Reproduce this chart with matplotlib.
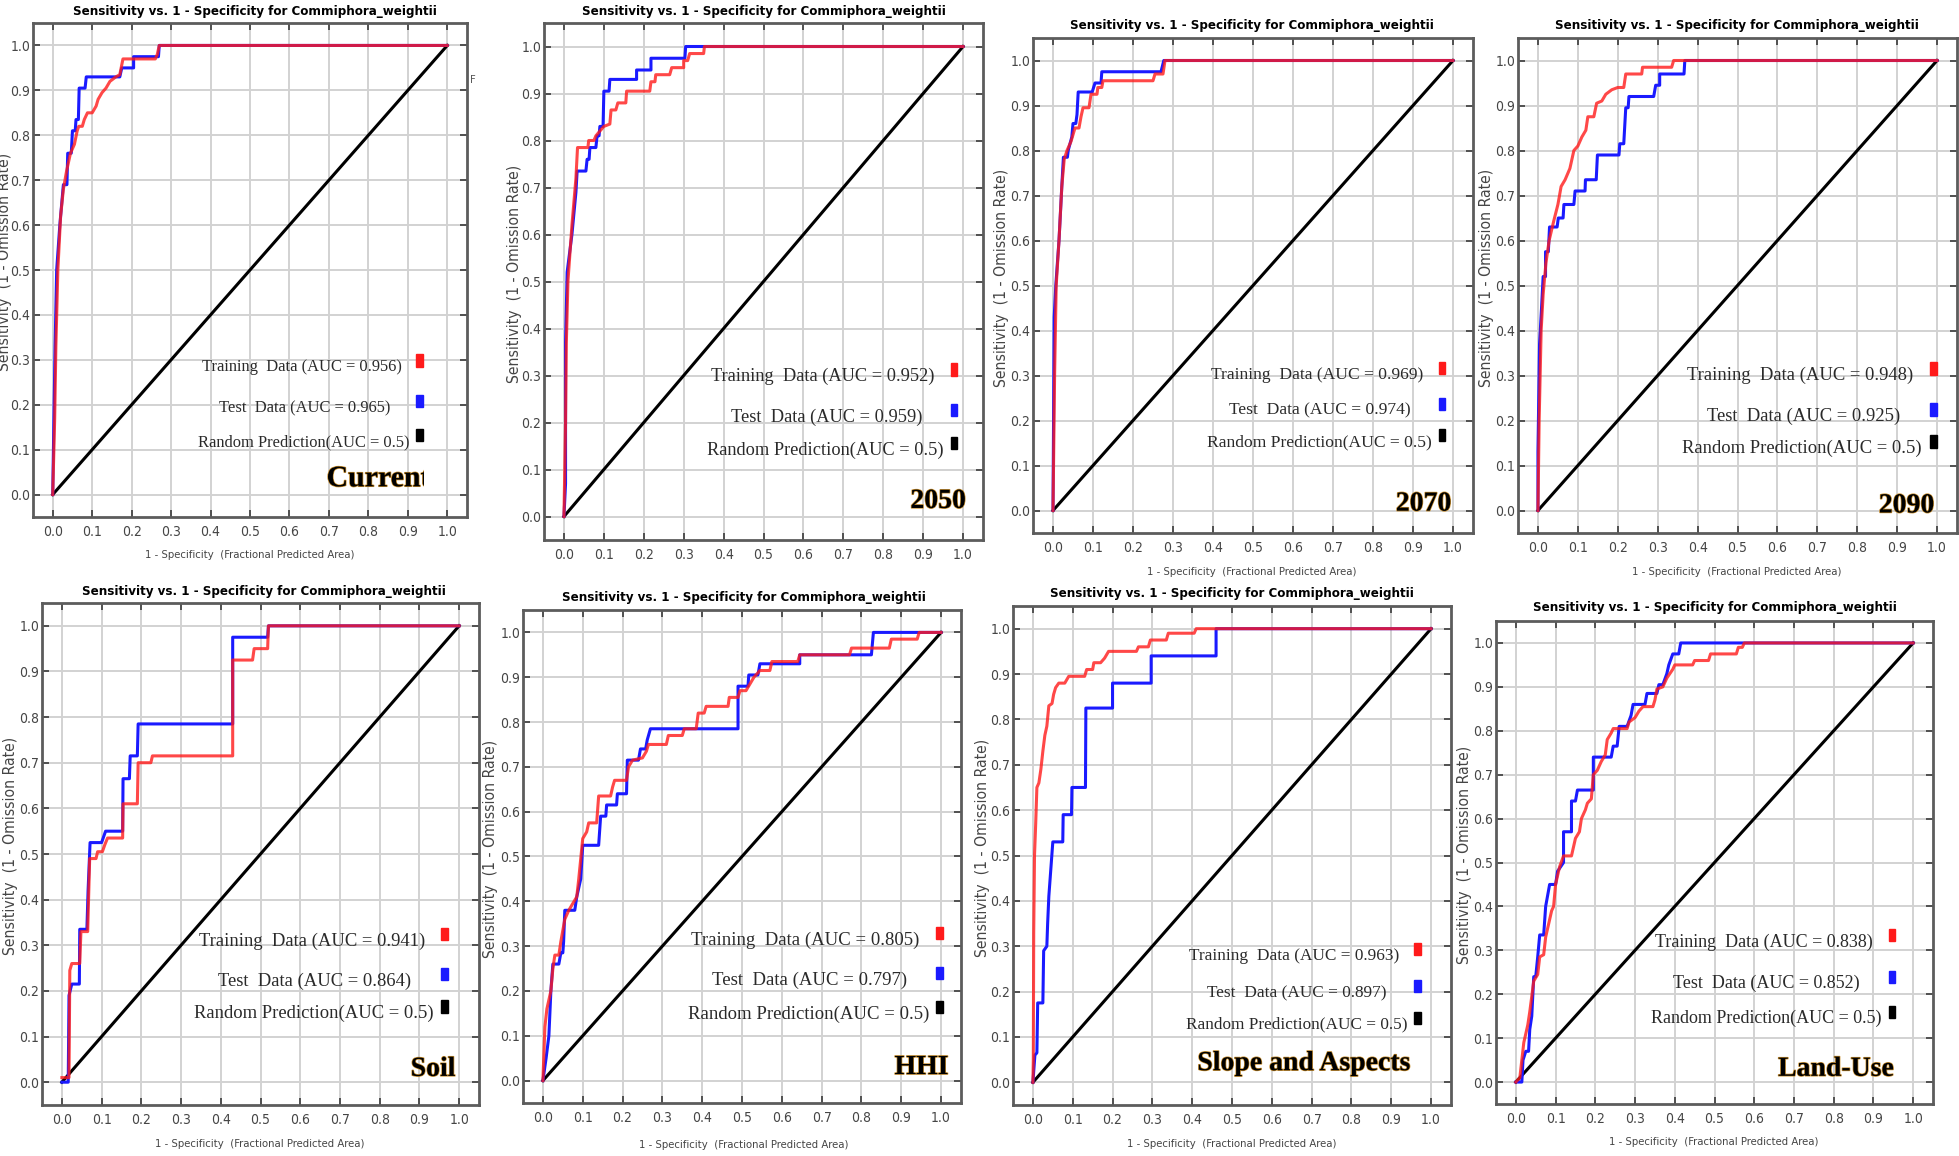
import matplotlib
matplotlib.use("Agg")
import matplotlib.pyplot as plt
import matplotlib.font_manager as fm
import matplotlib.patheffects as pe
from matplotlib.patches import Rectangle

# ---- data (x = 1-specificity, y = sensitivity) ----
cur_train = [(0,0),(0.005,0.17),(0.008,0.33),(0.013,0.5),(0.02,0.62),(0.027,0.68),(0.035,0.72),(0.045,0.76),
             (0.055,0.78),(0.062,0.81),(0.066,0.82),(0.075,0.82),(0.08,0.835),(0.088,0.85),(0.1,0.85),(0.11,0.865),
             (0.115,0.88),(0.125,0.895),(0.135,0.905),(0.145,0.92),(0.16,0.93),(0.17,0.935),(0.178,0.97),
             (0.26,0.97),(0.265,0.98),(0.27,1.0),(1,1)]
cur_test = [(0,0),(0.003,0.17),(0.006,0.33),(0.01,0.5),(0.018,0.6),(0.022,0.64),(0.027,0.69),(0.036,0.69),
            (0.038,0.76),(0.047,0.76),(0.05,0.81),(0.057,0.81),(0.059,0.835),(0.065,0.835),(0.067,0.905),
            (0.082,0.905),(0.085,0.93),(0.17,0.93),(0.175,0.95),(0.205,0.95),(0.205,0.975),(0.268,0.975),
            (0.27,1.0),(1,1)]

y2050_train = [(0,0),(0.004,0.2),(0.006,0.37),(0.01,0.5),(0.02,0.62),(0.03,0.72),(0.034,0.785),(0.06,0.785),
               (0.062,0.8),(0.075,0.8),(0.08,0.81),(0.09,0.82),(0.1,0.83),(0.115,0.835),(0.118,0.865),(0.13,0.865),
               (0.135,0.88),(0.155,0.88),(0.157,0.905),(0.215,0.905),(0.218,0.925),(0.228,0.925),(0.23,0.94),
               (0.265,0.94),(0.27,0.955),(0.3,0.955),(0.3,0.97),(0.31,0.97),(0.315,0.985),(0.35,0.985),
               (0.352,1.0),(1,1)]
y2050_test = [(0,0),(0.004,0.07),(0.004,0.37),(0.008,0.52),(0.02,0.6),(0.03,0.69),(0.033,0.735),(0.055,0.735),
              (0.058,0.76),(0.063,0.76),(0.065,0.785),(0.08,0.785),(0.083,0.81),(0.088,0.81),(0.09,0.83),
              (0.098,0.83),(0.1,0.905),(0.113,0.905),(0.115,0.93),(0.182,0.93),(0.182,0.95),(0.218,0.95),
              (0.218,0.975),(0.303,0.975),(0.305,1.0),(1,1)]

y2070_train = [(0,0),(0.004,0.3),(0.008,0.5),(0.015,0.6),(0.022,0.72),(0.028,0.78),(0.035,0.8),(0.045,0.82),
               (0.055,0.85),(0.065,0.85),(0.07,0.875),(0.075,0.895),(0.09,0.895),(0.095,0.925),(0.11,0.925),
               (0.112,0.94),(0.122,0.94),(0.125,0.955),(0.25,0.955),(0.255,0.97),(0.275,0.97),(0.28,1.0),(1,1)]
y2070_test = [(0,0),(0.003,0.43),(0.007,0.5),(0.015,0.6),(0.022,0.72),(0.026,0.785),(0.036,0.785),(0.038,0.8),
              (0.047,0.83),(0.05,0.86),(0.057,0.86),(0.06,0.88),(0.063,0.93),(0.098,0.93),(0.105,0.95),
              (0.12,0.95),(0.122,0.975),(0.27,0.975),(0.277,1.0),(1,1)]

y2090_train = [(0,0),(0.003,0.2),(0.008,0.4),(0.013,0.48),(0.02,0.55),(0.028,0.6),(0.04,0.645),(0.05,0.68),
               (0.058,0.72),(0.068,0.735),(0.08,0.76),(0.09,0.8),(0.1,0.81),(0.11,0.83),(0.12,0.845),(0.125,0.875),
               (0.14,0.875),(0.147,0.905),(0.16,0.91),(0.17,0.925),(0.185,0.935),(0.2,0.94),(0.215,0.94),
               (0.22,0.97),(0.26,0.97),(0.262,0.985),(0.335,0.985),(0.34,1.0),(1,1)]
y2090_test = [(0,0),(0.0,0.13),(0.004,0.37),(0.009,0.45),(0.013,0.52),(0.019,0.52),(0.019,0.575),(0.026,0.575),
              (0.029,0.63),(0.048,0.63),(0.051,0.65),(0.063,0.65),(0.065,0.68),(0.09,0.68),(0.093,0.71),
              (0.118,0.71),(0.119,0.735),(0.146,0.735),(0.149,0.79),(0.203,0.79),(0.205,0.815),(0.215,0.815),
              (0.22,0.895),(0.226,0.895),(0.228,0.92),(0.29,0.92),(0.295,0.945),(0.305,0.945),(0.305,0.97),
              (0.366,0.97),(0.368,1.0),(1,1)]

soil_train = [(0,0.01),(0.018,0.01),(0.02,0.245),(0.025,0.26),(0.045,0.26),(0.048,0.33),(0.065,0.33),
              (0.07,0.49),(0.086,0.49),(0.09,0.505),(0.102,0.505),(0.108,0.52),(0.115,0.535),(0.153,0.535),
              (0.154,0.61),(0.19,0.61),(0.192,0.7),(0.224,0.7),(0.228,0.715),(0.43,0.715),(0.43,0.925),
              (0.48,0.925),(0.484,0.95),(0.518,0.95),(0.52,1.0),(1,1)]
soil_test = [(0,0),(0.016,0),(0.018,0.19),(0.025,0.215),(0.044,0.215),(0.045,0.335),(0.063,0.335),
             (0.066,0.42),(0.071,0.525),(0.1,0.525),(0.11,0.55),(0.153,0.55),(0.154,0.665),(0.17,0.665),
             (0.172,0.715),(0.19,0.715),(0.192,0.785),(0.43,0.785),(0.43,0.975),(0.518,0.975),(0.52,1.0),(1,1)]

hhi_train = [(0,0),(0.005,0.12),(0.01,0.16),(0.02,0.2),(0.025,0.25),(0.03,0.28),(0.04,0.28),(0.045,0.31),
             (0.055,0.36),(0.065,0.38),(0.075,0.395),(0.085,0.41),(0.09,0.45),(0.1,0.54),(0.11,0.555),
             (0.115,0.575),(0.135,0.575),(0.14,0.635),(0.17,0.635),(0.175,0.655),(0.18,0.67),(0.21,0.67),
             (0.215,0.7),(0.225,0.715),(0.25,0.72),(0.26,0.735),(0.265,0.75),(0.31,0.75),(0.315,0.77),
             (0.35,0.77),(0.355,0.785),(0.385,0.785),(0.39,0.82),(0.405,0.82),(0.41,0.835),(0.465,0.835),
             (0.468,0.855),(0.49,0.855),(0.495,0.87),(0.51,0.87),(0.52,0.885),(0.53,0.9),(0.545,0.915),
             (0.57,0.915),(0.575,0.935),(0.64,0.935),(0.645,0.95),(0.77,0.95),(0.775,0.965),(0.87,0.965),
             (0.875,0.985),(0.94,0.985),(0.945,1.0),(1,1)]
hhi_test = [(0,0),(0.008,0.05),(0.015,0.1),(0.02,0.2),(0.025,0.26),(0.04,0.26),(0.045,0.285),(0.05,0.285),
            (0.052,0.31),(0.055,0.38),(0.08,0.38),(0.085,0.41),(0.095,0.45),(0.1,0.525),(0.14,0.525),
            (0.145,0.59),(0.158,0.59),(0.16,0.615),(0.185,0.615),(0.187,0.64),(0.21,0.64),(0.212,0.715),
            (0.24,0.715),(0.245,0.74),(0.258,0.74),(0.262,0.76),(0.27,0.785),(0.49,0.785),(0.49,0.88),
            (0.515,0.88),(0.517,0.905),(0.54,0.905),(0.545,0.93),(0.645,0.93),(0.645,0.95),(0.825,0.95),
            (0.83,1.0),(1,1)]

slope_train = [(0,0),(0.001,0.05),(0.002,0.33),(0.004,0.5),(0.007,0.57),(0.01,0.65),(0.015,0.66),(0.02,0.69),
               (0.025,0.73),(0.03,0.765),(0.035,0.785),(0.04,0.83),(0.048,0.835),(0.052,0.855),(0.057,0.87),
               (0.065,0.88),(0.08,0.88),(0.09,0.895),(0.13,0.895),(0.135,0.91),(0.15,0.91),(0.153,0.925),
               (0.17,0.925),(0.18,0.935),(0.19,0.95),(0.26,0.95),(0.265,0.96),(0.29,0.96),(0.295,0.975),
               (0.335,0.975),(0.34,0.99),(0.405,0.99),(0.41,1.0),(1,1)]
slope_test = [(0,0),(0.005,0.06),(0.01,0.065),(0.012,0.175),(0.025,0.175),(0.027,0.29),(0.035,0.3),
              (0.037,0.35),(0.04,0.41),(0.045,0.47),(0.05,0.53),(0.075,0.53),(0.076,0.59),(0.097,0.59),
              (0.098,0.65),(0.132,0.65),(0.133,0.825),(0.2,0.825),(0.2,0.88),(0.297,0.88),(0.297,0.94),
              (0.46,0.94),(0.46,1.0),(1,1)]

land_train = [(0,0),(0.01,0.01),(0.02,0.09),(0.03,0.13),(0.035,0.16),(0.045,0.23),(0.055,0.245),(0.06,0.285),
              (0.07,0.29),(0.075,0.33),(0.085,0.37),(0.09,0.39),(0.095,0.4),(0.1,0.45),(0.11,0.49),(0.12,0.515),
              (0.14,0.515),(0.145,0.535),(0.15,0.555),(0.16,0.57),(0.165,0.6),(0.175,0.62),(0.18,0.635),
              (0.19,0.645),(0.195,0.7),(0.205,0.71),(0.215,0.73),(0.225,0.745),(0.23,0.78),(0.24,0.795),
              (0.245,0.805),(0.28,0.805),(0.285,0.82),(0.3,0.83),(0.31,0.845),(0.32,0.855),(0.345,0.855),
              (0.35,0.87),(0.355,0.895),(0.37,0.9),(0.38,0.92),(0.395,0.94),(0.4,0.95),(0.445,0.95),
              (0.45,0.96),(0.485,0.96),(0.49,0.975),(0.555,0.975),(0.56,0.99),(0.57,0.99),(0.575,1.0),(1,1)]
land_test = [(0,0),(0.015,0),(0.018,0.05),(0.025,0.07),(0.032,0.07),(0.035,0.12),(0.04,0.15),(0.045,0.24),
             (0.05,0.24),(0.055,0.285),(0.06,0.335),(0.07,0.335),(0.075,0.4),(0.08,0.425),(0.085,0.45),
             (0.1,0.45),(0.105,0.48),(0.12,0.5),(0.12,0.57),(0.14,0.57),(0.14,0.64),(0.15,0.64),(0.155,0.665),
             (0.195,0.665),(0.195,0.74),(0.24,0.74),(0.245,0.765),(0.255,0.765),(0.26,0.81),(0.28,0.81),
             (0.29,0.835),(0.295,0.86),(0.325,0.86),(0.33,0.885),(0.355,0.885),(0.36,0.905),(0.37,0.905),
             (0.38,0.93),(0.385,0.95),(0.395,0.975),(0.41,0.975),(0.415,1.0),(1,1)]

panel_names = ["Current", "2050", "2070", "2090", "Soil", "HHI", "Slope and Aspects", "Land-Use"]
train_auc = ["0.956", "0.952", "0.969", "0.948", "0.941", "0.805", "0.963", "0.838"]
test_auc = ["0.965", "0.959", "0.974", "0.925", "0.864", "0.797", "0.897", "0.852"]
train_curves = [cur_train, y2050_train, y2070_train, y2090_train, soil_train, hhi_train, slope_train, land_train]
test_curves = [cur_test, y2050_test, y2070_test, y2090_test, soil_test, hhi_test, slope_test, land_test]
ticks = [0.0, 0.1, 0.2, 0.3, 0.4, 0.5, 0.6, 0.7, 0.8, 0.9, 1.0]

# ---- layout (pixel boxes of each plot frame in the 1959x1156 picture) ----
W, H = 1959, 1156
frames = [(33, 23, 467, 517), (544, 23, 983, 540), (1033, 38, 1473, 533), (1518, 38, 1957, 533),
          (42, 603, 479, 1105), (523, 610, 961, 1103), (1013, 606, 1451, 1105), (1496, 621, 1933, 1104)]
title_xy = [(255, 11), (764, 11), (1252, 26), (1737, 26), (264, 591), (744, 597), (1232, 594), (1715, 608)]
xlab_xy = [(250, 555), None, (1252, 572), (1737, 572), (260, 1144), (744, 1145), (1232, 1144), (1714, 1142)]
ylab_x = [5, 515, 1001, 1486, 11, 491, 982, 1465]
# legend: right edge + y of the three texts, marker x, panel label left x / y
leg = [((0.886, 0.283), (0.856, 0.192), (0.905, 0.117), 0.930, (0.694, 0.035)),
       ((0.929, 0.298), (0.897, 0.211), (0.952, 0.141), 0.977, (0.868, 0.032)),
       ((0.925, 0.302), (0.894, 0.222), (0.947, 0.152), 0.972, (0.857, 0.014)),
       ((0.940, 0.300), (0.908, 0.209), (0.962, 0.138), 0.990, (0.854, 0.010)),
       ((0.914, 0.309), (0.880, 0.222), (0.937, 0.150), 0.962, (0.878, 0.028)),
       ((0.946, 0.314), (0.914, 0.224), (0.971, 0.148), 0.996, (0.883, 0.029)),
       ((0.920, 0.279), (0.889, 0.196), (0.941, 0.127), 0.965, (0.413, 0.041)),
       ((0.899, 0.319), (0.866, 0.224), (0.920, 0.144), 0.946, (0.660, 0.029))]
leg_w = [199, 223, 211, 225, 226, 227, 209, 218]   # width of the "Training Data" line, px
name_size = [21.5, 20, 20, 20, 20, 20, 20, 20]
# widths (px) of the small sans texts in the original
title_w, xlab_w, ylab_len, tick_w = 362, 211, 218, 20

# narrow sans files if there are any, otherwise Liberation Sans
def weight_of(f):
    w = f.weight
    if isinstance(w, str):
        return 700 if "bold" in w.lower() else 400
    return w

narrow = [f for f in fm.fontManager.ttflist
          if ("Narrow" in f.name or "Condensed" in f.name or f.stretch in ("condensed", "semi-condensed"))
          and ("Sans" in f.name or "Roboto" in f.name) and f.style == "normal"]
reg = [f for f in narrow if weight_of(f) == 400]
bld = [f for f in narrow if weight_of(f) >= 700]
if reg:
    fp_reg = fm.FontProperties(fname=reg[0].fname)
else:
    fp_reg = fm.FontProperties(family="Liberation Sans")
if bld:
    fp_bold = fm.FontProperties(fname=bld[0].fname)
else:
    fp_bold = fm.FontProperties(family="Liberation Sans", weight="bold")
serif = "Liberation Serif"

fig = plt.figure(figsize=(W / 100, H / 100), dpi=100)
fig.patch.set_facecolor("white")
rend = fig.canvas.get_renderer()

def fx(x):
    return x / W

def fy(y):
    return 1 - y / H

def fit(t, target, vertical=False):
    bb = t.get_window_extent(rend)
    cur = bb.height if vertical else bb.width
    t.set_fontsize(t.get_fontsize() * target / cur)
    return t.get_fontsize()

probe = fig.text(0, 0, "0.0", fontproperties=fp_reg, fontsize=10)
ksize = 10 * tick_w / probe.get_window_extent(rend).width
probe.remove()

for i in range(8):
    l, t, r, b = frames[i]
    ax = fig.add_axes([fx(l), fy(b), (r - l) / W, (b - t) / H])
    ax.set_xlim(-0.05, 1.05)
    ax.set_ylim(-0.05, 1.05)
    ax.set_xticks(ticks)
    ax.set_yticks(ticks)
    ax.set_xticklabels(["%.1f" % v for v in ticks])
    ax.set_yticklabels(["%.1f" % v for v in ticks])
    ax.grid(True, color="#d2d2d2", lw=1.4)
    ax.set_axisbelow(True)
    ax.tick_params(direction="in", length=5, width=1.4, color="#505050", top=True, right=True,
                   labelcolor="#454545")
    ax.tick_params(axis="x", pad=6)
    ax.tick_params(axis="y", pad=2)
    for lab in ax.get_xticklabels() + ax.get_yticklabels():
        lab.set_fontproperties(fp_reg)
        lab.set_fontsize(ksize)
    for s in ax.spines.values():
        s.set_color("#5c5c5c")
        s.set_linewidth(2)

    ax.plot([0, 1], [0, 1], color="black", lw=2.2, zorder=3)
    tx = [p[0] for p in test_curves[i]]
    ty = [p[1] for p in test_curves[i]]
    ax.plot(tx, ty, color="#1a1aff", lw=2.2, zorder=4)
    rx = [p[0] for p in train_curves[i]]
    ry = [p[1] for p in train_curves[i]]
    ax.plot(rx, ry, color="#ff1a1a", lw=2.2, alpha=0.8, zorder=5)

    (t1, t2, t3, mx, (nx, ny)) = leg[i]
    texts = ["Training  Data (AUC = %s)" % train_auc[i], "Test  Data (AUC = %s)" % test_auc[i],
             "Random Prediction(AUC = 0.5)"]
    fs = None
    for (px, py), s, c in zip([t1, t2, t3], texts, ["#ff1a1a", "#1a1aff", "black"]):
        lt = ax.text(px, py, s, ha="right", va="center", family=serif, fontsize=12, color="#2a2a2a", zorder=6)
        if fs is None:
            fs = fit(lt, leg_w[i])
        else:
            lt.set_fontsize(fs)
        ax.add_patch(Rectangle((mx - 0.008, py + 0.002), 0.017, 0.027, color=c, zorder=6))
    lbl = ax.text(nx, ny, panel_names[i], ha="left", va="center", family=serif, fontsize=name_size[i],
                  fontweight="bold", color="black", zorder=7,
                  path_effects=[pe.withStroke(linewidth=1.0, foreground="#c98f2e")])
    if i == 0:
        # the "Current" label is cut off at its right end in the original
        lbl.set_clip_on(True)
        lbl.set_clip_path(Rectangle((-0.05, -0.05), 0.99, 1.1, transform=ax.transData))

    tt = fig.text(fx(title_xy[i][0]), fy(title_xy[i][1]),
                  "Sensitivity vs. 1 - Specificity for Commiphora_weightii",
                  ha="center", va="center", fontproperties=fp_bold, fontsize=10, color="black")
    fit(tt, title_w)
    if xlab_xy[i] is not None:
        xt = fig.text(fx(xlab_xy[i][0]), fy(xlab_xy[i][1]), "1 - Specificity  (Fractional Predicted Area)",
                      ha="center", va="center", fontproperties=fp_reg, fontsize=9, color="#454545")
        fit(xt, xlab_w)
    yt = fig.text(fx(ylab_x[i]), fy((t + b) / 2 - 8), "Sensitivity  (1 - Omission Rate)",
                  ha="center", va="center", rotation=90, fontproperties=fp_reg, fontsize=9, color="#454545")
    fit(yt, ylab_len, vertical=True)

fig.text(fx(473), fy(80), "F", ha="center", va="center", fontproperties=fp_reg, fontsize=8, color="#555555")

fig.savefig("out.png", dpi=100)
